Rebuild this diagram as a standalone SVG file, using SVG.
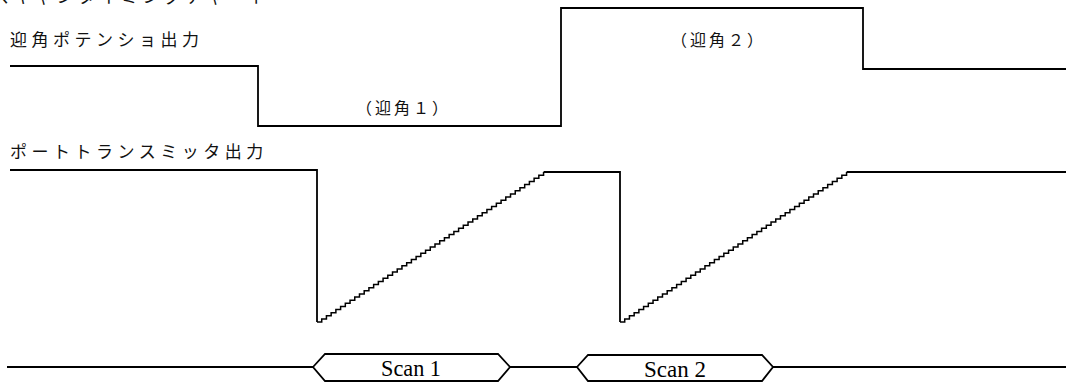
<svg xmlns="http://www.w3.org/2000/svg" xmlns:xlink="http://www.w3.org/1999/xlink" width="1066" height="383" viewBox="0 0 1066 383">
  <style>
    .sig { fill: none; stroke: #000; stroke-width: 1.8; stroke-linejoin: miter; }
    .step { fill: none; stroke: #000; stroke-width: 1.5; }
    .jp { font-family: "Noto Sans CJK JP", "Noto Sans", sans-serif; font-size: 17px; fill: #111; letter-spacing: 4.5px; }
    .jpl { font-family: "Noto Sans CJK JP", "Noto Sans", sans-serif; font-size: 16px; fill: #111; letter-spacing: 3px; }
    .scan { font-family: "Liberation Serif", "Times New Roman", serif; font-size: 24px; fill: #000; text-anchor: middle; }
  </style>
  <defs>
    <!-- stepped ramp of the transmitter output (48 steps) -->
    <path id="ramp" class="step" d="M0 0 h4.72v-3.125h4.72v-3.125h4.72v-3.125h4.72v-3.125h4.72v-3.125h4.72v-3.125h4.72v-3.125h4.72v-3.125h4.72v-3.125h4.72v-3.125h4.72v-3.125h4.72v-3.125h4.72v-3.125h4.72v-3.125h4.72v-3.125h4.72v-3.125h4.72v-3.125h4.72v-3.125h4.72v-3.125h4.72v-3.125h4.72v-3.125h4.72v-3.125h4.72v-3.125h4.72v-3.125h4.72v-3.125h4.72v-3.125h4.72v-3.125h4.72v-3.125h4.72v-3.125h4.72v-3.125h4.72v-3.125h4.72v-3.125h4.72v-3.125h4.72v-3.125h4.72v-3.125h4.72v-3.125h4.72v-3.125h4.72v-3.125h4.72v-3.125h4.72v-3.125h4.72v-3.125h4.72v-3.125h4.72v-3.125h4.72v-3.125h4.72v-3.125h4.72v-3.125h4.72v-3.125h4.72v-3.125"/>
  </defs>

  <!-- heading, cut at the top edge -->
  <text class="jp" x="-8" y="3">スキャンタイミングチャート</text>

  <!-- elevation potentiometer output -->
  <g id="pot">
    <text class="jp" x="10" y="46">迎角ポテンショ出力</text>
    <path class="sig" d="M10 66 H258 V126 H561 V8 H863 V69 H1066"/>
    <text class="jpl" x="356" y="114">（迎角１）</text>
    <text class="jpl" x="671" y="46">（迎角２）</text>
  </g>

  <!-- port transmitter output -->
  <g id="port">
    <text class="jp" x="10" y="158">ポートトランスミッタ出力</text>
    <path class="sig" d="M10 170 H317 V322"/>
    <use xlink:href="#ramp" x="317" y="322"/>
    <path class="sig" d="M543.6 172 H620 V322"/>
    <use xlink:href="#ramp" x="620" y="322"/>
    <path class="sig" d="M846.6 172 H1066"/>
  </g>

  <!-- scan bus -->
  <g id="connectors">
    <path class="sig" d="M7 367 H313 M510 367 H577 M773 367 H1066"/>
  </g>
  <g id="scan1">
    <path class="sig" d="M313 367 L325 354 H498 L510 367 L498 381 H325 Z"/>
    <text class="scan" x="411" y="376" textLength="60" lengthAdjust="spacingAndGlyphs">Scan 1</text>
  </g>
  <g id="scan2">
    <path class="sig" d="M577 367 L588 355 H762 L773 367 L762 381 H588 Z"/>
    <text class="scan" x="675" y="377" textLength="62" lengthAdjust="spacingAndGlyphs">Scan 2</text>
  </g>
</svg>
